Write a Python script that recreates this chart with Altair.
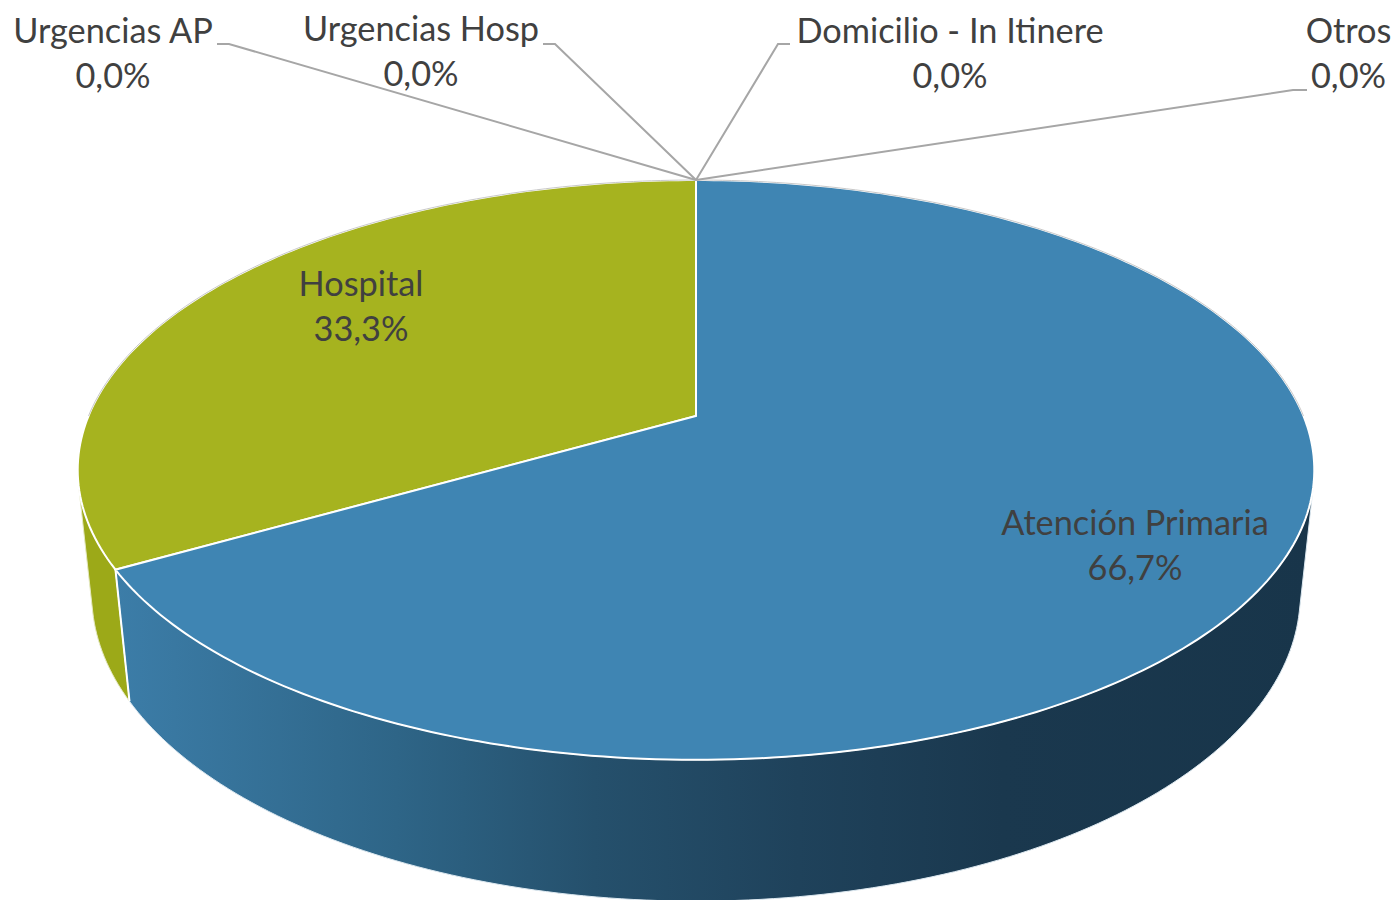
import math
import altair as alt
import pandas as pd

# ---- data ----
categories = ["Atención Primaria", "Hospital", "Urgencias AP", "Urgencias Hosp", "Domicilio - In Itinere", "Otros"]
shares = [66.7, 33.3, 0.0, 0.0, 0.0, 0.0]

# ---- layout (page pixels of the label anchors) ----
label_x = [1135, 361, 113, 421, 950, 1348.5]
label_y = [534.5, 295.5, 42.5, 40.5, 42.5, 42.5]
leaders = [
    [(217, 44), (229, 44), (696, 180)],
    [(543, 44), (555, 44), (696, 180)],
    [(790, 44), (778, 44), (696, 180)],
    [(1307, 90), (1293, 90), (696, 180)],
]
MARGIN = 8
CX, CY, RX, RY, PERSP = 696, 416, 607.5, 202.5, 0.186
DEPTH_W, DEPTH_Y = 0.0225, 135.3
VANISH_Y = DEPTH_Y / DEPTH_W  # where the pie's vertical edges would meet


def project(angle_deg, radius=1.0, depth=0.0):
    """Tilted, perspective view of a point of the pie disc."""
    t = math.radians(angle_deg)
    u, v = radius * math.sin(t), radius * math.cos(t)
    w = 1 + PERSP * v + DEPTH_W * depth
    return [CX + RX * u / w - MARGIN, (CY - RY * v + DEPTH_Y * depth) / w - MARGIN]


def arc(a0, a1, depth=0.0, step=1.0):
    n = max(2, int(abs(a1 - a0) / step))
    return [project(a0 + (a1 - a0) * i / n, depth=depth) for i in range(n + 1)]


def silhouette(a0, a1):
    """Angle where the side wall's straight edge touches the disc."""
    def lean(a):
        x, y = project(a)
        return abs(x - (CX - MARGIN)) / (VANISH_Y - y)
    return max((a0 + i * 0.1 for i in range(int((a1 - a0) * 10) + 1)), key=lean)


def feature(coords, closed=True):
    if closed:
        ring = coords + [coords[0]]
        geom = {"type": "Polygon", "coordinates": [ring]}
    else:
        geom = {"type": "LineString", "coordinates": coords}
    return {"type": "Feature", "properties": {}, "geometry": geom}


total = sum(shares)
a_blue = 360 * shares[0] / total  # the first slice runs clockwise from the top
center = project(0, radius=0)
edge_right = silhouette(0, 180)
edge_left = silhouette(180, 360)

top_blue = feature([center] + arc(0, a_blue))
top_green = feature([center] + arc(a_blue, 360))
side_blue = feature(arc(edge_right, a_blue) + arc(a_blue, edge_right, depth=1))
side_green = feature(arc(a_blue, edge_left) + arc(edge_left, a_blue, depth=1))
seam = feature([project(a_blue), project(a_blue, depth=1)], closed=False)
back_rim = feature(arc(270, 450), closed=False)
leader_features = [feature([[x - MARGIN, y - MARGIN] for x, y in pts], closed=False) for pts in leaders]


def shape(features, **style):
    return (
        alt.Chart(alt.Data(values=features))
        .mark_geoshape(**style)
        .project(type="identity", scale=1, translate=[0, 0])
    )


blue_side_fill = alt.Gradient(
    gradient="linear", x1=0, x2=1, y1=0, y2=0,
    stops=[
        alt.GradientStop(color="#3C7DA8", offset=0.0),
        alt.GradientStop(color="#2E6587", offset=0.235),
        alt.GradientStop(color="#25506C", offset=0.4),
        alt.GradientStop(color="#1F425B", offset=0.57),
        alt.GradientStop(color="#1A384E", offset=0.74),
        alt.GradientStop(color="#18354A", offset=1.0),
    ],
)

labels = pd.DataFrame({
    "text": [f"{c}\n{s:.1f}%".replace(".", ",") for c, s in zip(categories, shares)],
    "x": [x - MARGIN for x in label_x],
    "y": [y - MARGIN for y in label_y],
})
text = alt.Chart(labels).mark_text(
    font="Lato", fontSize=34.3, color="#404040", align="center",
    baseline="alphabetic", lineBreak="\n", lineHeight=45,
).encode(x=alt.X("x:Q", scale=None), y=alt.Y("y:Q", scale=None), text="text:N")

chart = alt.layer(
    shape([side_green], fill="#9CA918", stroke="#E4E8C0", strokeWidth=1),
    shape([side_blue], fill=blue_side_fill, stroke="#DCE8F0", strokeWidth=1),
    shape([seam], filled=False, stroke="#FFFFFF", strokeWidth=2),
    shape([top_green], fill="#A6B31F", stroke="#FFFFFF", strokeWidth=2),
    shape([top_blue], fill="#3F85B3", stroke="#FFFFFF", strokeWidth=2),
    shape([back_rim], filled=False, stroke="#C9C9C9", strokeWidth=1),
    shape(leader_features, filled=False, stroke="#A6A6A6", strokeWidth=2),
    text,
).properties(
    width=1383, height=892, padding=0, autosize=alt.AutoSizeParams(type="none")
).configure_view(stroke=None)

chart.save("out.html", embed_options={"renderer": "svg", "actions": False})
